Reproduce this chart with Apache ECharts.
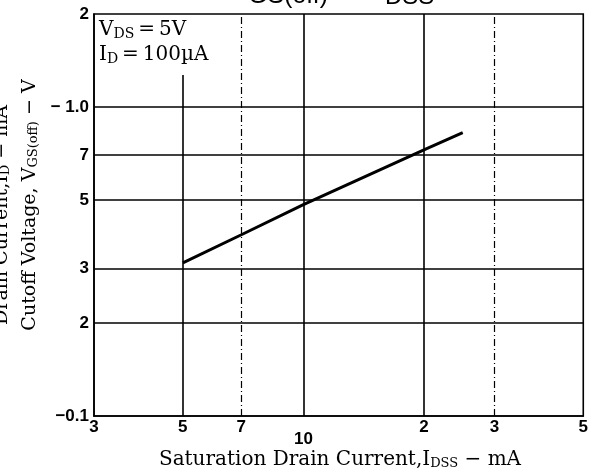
<!DOCTYPE html>
<html><head><meta charset="utf-8">
<script src="https://cdn.jsdelivr.net/npm/echarts@6/dist/echarts.min.js"></script>
<style>html,body{margin:0;padding:0;background:#fff}#c{width:591px;height:475px}</style>
</head><body><div id="c"></div>
<script>
// Data (log-log)
const idss = [5, 7, 10, 20, 25];                 // Saturation drain current, mA
const vgsoff = [0.313, 0.386, 0.483, 0.726, 0.826]; // |Cutoff voltage|, V
const xTicks = [3, 5, 7, 10, 20, 30, 50];
const xTickLabels = ['3', '5', '7', '10', '2', '3', '5'];
const yTicks = [0.1, 0.2, 0.3, 0.5, 0.7, 1, 2];
const yTickLabels = ['\u22120.1', '2', '3', '5', '7', '\u2212 1.0', '2'];
const vGridSolid = [10, 20];
const vGridDash = [7, 30];
const hGrid = [0.2, 0.3, 0.5, 0.7, 1];

const chart = echarts.init(document.getElementById('c'), null, {renderer: 'canvas'});
const sans = 'Liberation Sans';
const serif = 'DejaVu Serif';
const solid = {color: '#000', width: 1.6, type: 'solid'};
const dash = {color: '#000', width: 1.2, type: [7, 3, 1, 3]};
const mlData = [];
vGridSolid.forEach(v => mlData.push({xAxis: v, lineStyle: solid}));
vGridDash.forEach(v => mlData.push({xAxis: v, lineStyle: dash}));
hGrid.forEach(v => mlData.push({yAxis: v, lineStyle: solid}));
mlData.push([{coord: [5, 0.1], lineStyle: solid}, {coord: [5, 1.27]}]);

chart.setOption({
  animation: false,
  grid: {left: 94, right: 6, top: 14, bottom: 59, show: true, borderColor: '#000', borderWidth: 1.6},
  xAxis: {
    type: 'log', logBase: 10, min: 3, max: 50,
    axisLine: {show: true, lineStyle: {color: '#000', width: 1.6}},
    axisTick: {show: false}, splitLine: {show: false}, minorTick: {show: false},
    axisLabel: {
      customValues: xTicks, margin: 3, color: '#000', fontFamily: sans, fontWeight: 'bold', fontSize: 17,
      formatter: v => { const i = xTicks.findIndex(t => Math.abs(t - v) < 1e-6); const s = i >= 0 ? xTickLabels[i] : ''; return Math.abs(v - 10) < 1e-6 ? '{d|' + s + '}' : s; },
      rich: {d: {fontFamily: sans, fontWeight: 'bold', fontSize: 17, color: '#000', padding: [12, 0, 0, 0]}},
      hideOverlap: false, showMinLabel: true, showMaxLabel: true
    }
  },
  yAxis: {
    type: 'log', logBase: 10, min: 0.1, max: 2,
    axisLine: {show: true, lineStyle: {color: '#000', width: 1.6}},
    axisTick: {show: false}, splitLine: {show: false}, minorTick: {show: false},
    axisLabel: {
      customValues: yTicks, margin: 5, color: '#000', fontFamily: sans, fontWeight: 'bold', fontSize: 17,
      formatter: v => { const i = yTicks.findIndex(t => Math.abs(t - v) < 1e-6); return i >= 0 ? yTickLabels[i] : ''; },
      hideOverlap: false, showMinLabel: true, showMaxLabel: true
    }
  },
  series: [{
    type: 'line', data: idss.map((x, i) => [x, vgsoff[i]]), showSymbol: false, symbol: 'none',
    lineStyle: {color: '#000', width: 3}, z: 5,
    markLine: {silent: true, symbol: 'none', label: {show: false}, data: mlData, z: 1}
  }],
  graphic: [
    {type: 'text', left: 99, top: 20, z: 10, style: {text: 'V{s|DS}\u2009=\u20095V', font: '20px ' + serif, fill: '#000',
      rich: {s: {font: '14px ' + serif, fill: '#000', padding: [8, 0, 0, 0]}}}},
    {type: 'text', left: 99, top: 45, z: 10, style: {text: 'I{s|D}\u2009=\u2009100\u00b5A', font: '20px ' + serif, fill: '#000',
      rich: {s: {font: '14px ' + serif, fill: '#000', padding: [8, 0, 0, 0]}}}},
    {type: 'text', x: 340, y: 460, style: {text: 'Saturation Drain Current,I{s|DSS} \u2212 mA', font: '20px ' + serif, fill: '#000',
      align: 'center', verticalAlign: 'middle',
      rich: {s: {font: '13px ' + serif, fill: '#000', padding: [8, 0, 0, 0]}}}},
    {type: 'text', x: 30, y: 205, rotation: Math.PI / 2, style: {text: 'Cutoff Voltage, V{s|GS(off)} \u2212 V', font: '19px ' + serif, fill: '#000',
      align: 'center', verticalAlign: 'middle',
      rich: {s: {font: '13px ' + serif, fill: '#000', padding: [8, 0, 0, 0]}}}},
    {type: 'text', x: 2, y: 215, rotation: Math.PI / 2, style: {text: 'Drain Current,I{s|D} \u2212 mA', font: '19px ' + serif, fill: '#000',
      align: 'center', verticalAlign: 'middle',
      rich: {s: {font: '13px ' + serif, fill: '#000', padding: [8, 0, 0, 0]}}}},
    {type: 'text', x: 230, y: 4, style: {text: 'V', font: '26px ' + sans, fill: '#000', verticalAlign: 'bottom'}},
    {type: 'text', x: 248, y: 9, style: {text: 'GS(off)', font: '25px ' + sans, fill: '#000', verticalAlign: 'bottom'}},
    {type: 'text', x: 376, y: 4, style: {text: 'I', font: '26px ' + sans, fill: '#000', verticalAlign: 'bottom'}},
    {type: 'text', x: 385, y: 9, style: {text: 'DSS', font: '24px ' + sans, fill: '#000', verticalAlign: 'bottom'}}
  ]
});
</script></body></html>
